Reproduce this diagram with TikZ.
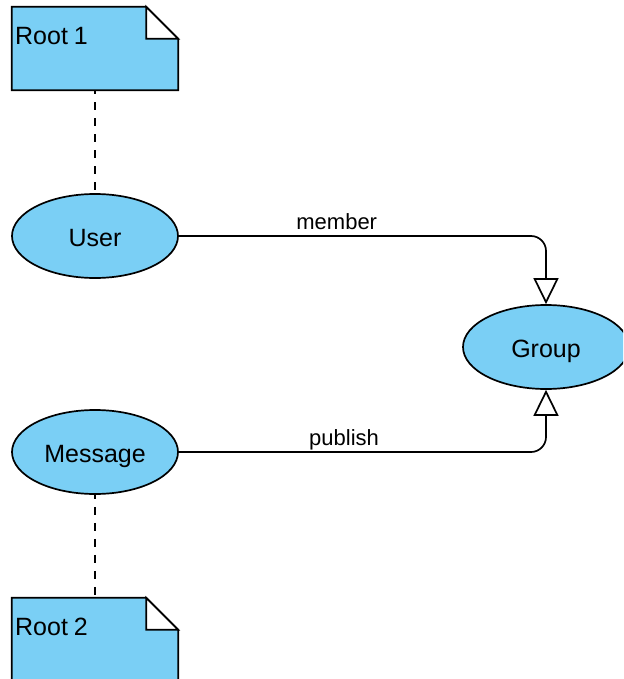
\documentclass[tikz,border=0pt]{standalone}
\usepackage{fontspec}
\setmainfont{Liberation Sans}
\usetikzlibrary{arrows.meta,shapes.geometric}
\definecolor{nodeblue}{RGB}{122,207,245}
\tikzset{
  entity/.style={ellipse, draw, fill=nodeblue, line width=1.7pt,
    minimum width=166pt, minimum height=84pt, inner sep=0pt,
    text height=20pt, text depth=0pt,
    font=\fontsize{25}{29}\selectfont},
  notebox/.style={rectangle, draw=none, minimum width=166pt,
    minimum height=83pt, inner sep=0pt},
  notebody/.style={draw, fill=nodeblue, line width=1.7pt, line join=miter},
  notefold/.style={draw, fill=white, line width=1.7pt},
  notetext/.style={anchor=base west, inner sep=0pt,
    font=\fontsize{25}{29}\selectfont},
  anchorline/.style={line width=1.7pt, dash pattern=on 8pt off 8pt,
    dash phase=4pt},
  assoc/.style={line width=1.7pt, rounded corners=15pt,
    -{Triangle[fill=white, length=26pt, width=25pt, line width=1.7pt]}},
  lbl/.style={anchor=base, fill=white, inner sep=0pt, yshift=7pt,
    font=\fontsize{22}{26}\selectfont}
}
\newcommand{\notepath}[1]{%
  \path[notebody] (#1.north west) -- ([xshift=-32pt]#1.north east)
    -- ([yshift=-32pt]#1.north east) -- (#1.south east)
    -- (#1.south west) -- cycle;
  \path[notefold] ([xshift=-32pt]#1.north east)
    -- ([xshift=-32pt,yshift=-32pt]#1.north east)
    -- ([yshift=-32pt]#1.north east) -- cycle;}
\begin{document}
\begin{tikzpicture}[x=1pt, y=-1pt]
  \clip (0,0) rectangle (623,679);
  \fill[white] (0,0) rectangle (623,679);

  % notes attached to the two root entities
  \node[notebox] (r1) at (95,48.5) {};
  \notepath{r1}
  \node[notetext] (r1t) at (15,44.5) {Root\kern-1pt\ 1};

  \node[notebox] (r2) at (95,639.5) {};
  \notepath{r2}
  \node[notetext] (r2t) at (15,635.5) {Root\kern-1pt\ 2};

  % entities
  \node[entity] (user) at (95,236) {User};
  \node[entity] (msg) at (95,452) {Message};
  \node[entity] (group) at (546,347) {Group};

  % note anchors
  \draw[anchorline] (r1.south) -- (user.north);
  \draw[anchorline] (msg.south) -- (r2.north);

  % relations
  \draw[assoc] (user.east) -| (group.north)
    node[lbl, pos=0.215] (lmember) {member};
  \draw[assoc] (msg.east) -| (group.south)
    node[lbl, pos=0.225] (lpublish) {publish};
\end{tikzpicture}
\end{document}
